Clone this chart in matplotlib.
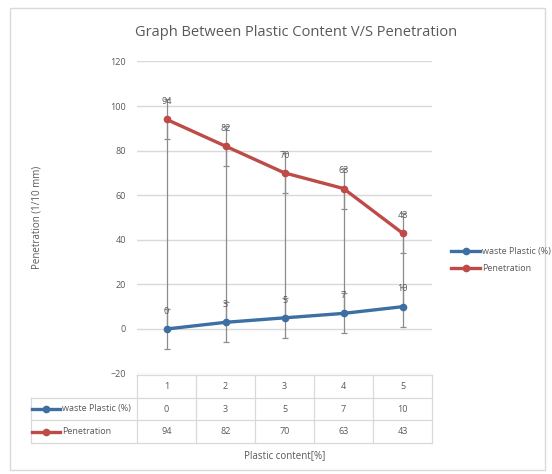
import matplotlib
matplotlib.use("Agg")
import matplotlib.pyplot as plt
from matplotlib.lines import Line2D
from matplotlib.patches import Rectangle

# Data
categories = [1, 2, 3, 4, 5]
waste_plastic = [0, 3, 5, 7, 10]
penetration = [94, 82, 70, 63, 43]
err_amount = 9
series_names = ["waste Plastic (%)", "Penetration"]
y_ticks = [-20, 0, 20, 40, 60, 80, 100, 120]

blue = "#3D6FA3"
red = "#BE4B48"
grey_txt = "#595959"
grid_c = "#D9D9D9"
bar_c = "#8C8C8C"

plt.rcParams["font.family"] = ["Open Sans", "DejaVu Sans"]

W, H = 552, 474
fig = plt.figure(figsize=(W / 100, H / 100), dpi=100)

def fx(px):
    return px / W

def fy(py):
    return 1 - py / H

# Outer chart frame
fig.patches.append(Rectangle((fx(10), fy(470)), fx(535), (462) / H,
                             transform=fig.transFigure, fill=False,
                             edgecolor=grid_c, linewidth=1.0))

left_px, right_px, top_px, bot_px = 137, 432, 61.4, 373.6
ax = fig.add_axes([fx(left_px), fy(bot_px), (right_px - left_px) / W,
                   (bot_px - top_px) / H])
ax.set_xlim(0.5, 5.5)
ax.set_ylim(-20, 120)
ax.set_yticks(y_ticks)
ax.set_xticks([])
ax.grid(axis="y", color=grid_c, linewidth=1.0)
ax.set_axisbelow(True)
for s in ax.spines.values():
    s.set_visible(False)
ax.tick_params(axis="y", length=0, labelsize=6.5, labelcolor=grey_txt, pad=8)
ax.set_ylabel("Penetration (1/10 mm)", fontsize=7, color=grey_txt, labelpad=49)

# High-low lines between the two series
ax.vlines(categories, waste_plastic, penetration, color=bar_c, linewidth=0.9, zorder=2)

# Error bars for both series
for vals in (waste_plastic, penetration):
    ax.errorbar(categories, vals, yerr=err_amount, fmt="none", ecolor=bar_c,
                elinewidth=0.9, capsize=2.5, capthick=0.9, zorder=2)

ax.plot(categories, waste_plastic, color=blue, linewidth=2.4, marker="o",
        markersize=4.5, zorder=3, label=series_names[0])
ax.plot(categories, penetration, color=red, linewidth=2.4, marker="o",
        markersize=4.5, zorder=3, label=series_names[1])

for x, v in zip(categories, waste_plastic):
    ax.text(x, v + err_amount - 1, str(v), ha="center", va="center",
            fontsize=6.5, color=grey_txt, zorder=4)
for x, v in zip(categories, penetration):
    ax.text(x, v + err_amount - 1, str(v), ha="center", va="center",
            fontsize=6.5, color=grey_txt, zorder=4)

fig.text(fx(296), fy(32), "Graph Between Plastic Content V/S Penetration",
         ha="center", va="center", fontsize=10.5, color=grey_txt)

# Legend on the right
leg_handles = [Line2D([0], [0], color=blue, linewidth=2.4, marker="o", markersize=4.5),
               Line2D([0], [0], color=red, linewidth=2.4, marker="o", markersize=4.5)]
fig.legend(leg_handles, series_names, loc="center left",
           bbox_to_anchor=(fx(443), fy(260)), frameon=False, fontsize=6.5,
           labelcolor=grey_txt, handlelength=3.2, handletextpad=0.2,
           labelspacing=0.9)

# Data table under the plot
tab_top, tab_bot = 375, 443
tab = fig.add_axes([fx(left_px), fy(tab_bot), (right_px - left_px) / W,
                    (tab_bot - tab_top) / H])
tab.set_xlim(0.5, 5.5)
tab.set_ylim(3, 0)
tab.axis("off")
leg_left = 0.5 - (left_px - 31) / ((right_px - left_px) / 5)
line_kw = dict(color=grid_c, linewidth=0.9, clip_on=False)
for r in range(4):
    x0 = 0.5 if r == 0 else leg_left
    tab.plot([x0, 5.5], [r, r], **line_kw)
for c in range(6):
    tab.plot([c + 0.5, c + 0.5], [0, 3], **line_kw)
tab.plot([leg_left, leg_left], [1, 3], **line_kw)

for x in categories:
    tab.text(x, 0.5, str(x), ha="center", va="center", fontsize=6.5, color=grey_txt)
for x, v in zip(categories, waste_plastic):
    tab.text(x, 1.5, str(v), ha="center", va="center", fontsize=6.5, color=grey_txt)
for x, v in zip(categories, penetration):
    tab.text(x, 2.5, str(v), ha="center", va="center", fontsize=6.5, color=grey_txt)

for row, (name, col) in enumerate(zip(series_names, [blue, red]), start=1):
    kx0 = leg_left + 0.02
    kx1 = kx0 + 0.48
    tab.plot([kx0, kx1], [row + 0.5, row + 0.5], color=col, linewidth=2.4,
             clip_on=False)
    tab.plot([(kx0 + kx1) / 2], [row + 0.5], color=col, marker="o",
             markersize=4.5, clip_on=False)
    tab.text(kx1 + 0.02, row + 0.5, name, ha="left", va="center",
             fontsize=6.5, color=grey_txt, clip_on=False)

fig.text(fx(285), fy(456), "Plastic content[%]", ha="center", va="center",
         fontsize=7, color=grey_txt)

fig.savefig("out.png", dpi=100)
